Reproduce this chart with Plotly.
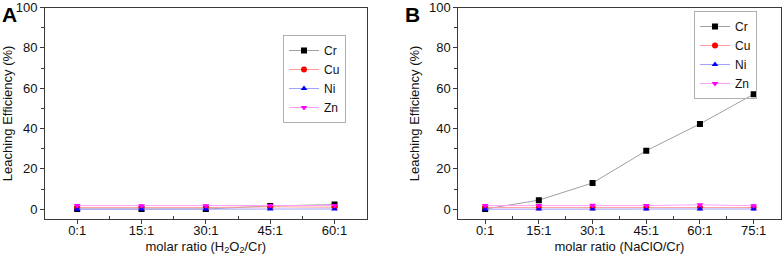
import plotly.graph_objects as go

# ---- data ----
cats_a = ["0:1", "15:1", "30:1", "45:1", "60:1"]
cr_a = [0.1, 0.1, 0.1, 1.6, 2.3]
cu_a = [0.8, 0.8, 0.8, 1.2, 1.0]
ni_a = [0.0, 0.0, 0.0, 0.1, 0.1]
zn_a = [1.8, 1.7, 1.7, 1.8, 1.9]

cats_b = ["0:1", "15:1", "30:1", "45:1", "60:1", "75:1"]
cr_b = [0.1, 4.5, 13.0, 29.0, 42.3, 57.0]
cu_b = [0.8, 0.8, 0.8, 0.8, 0.9, 0.8]
ni_b = [0.0, 0.1, 0.1, 0.1, 0.1, 0.1]
zn_b = [1.8, 1.8, 2.0, 1.8, 2.2, 1.7]

yticks = [0, 20, 40, 60, 80, 100]

FONT = "Liberation Sans, Arial, sans-serif"

series_style = [
    ("Cr", "#000000", "#a0a0a0", "square"),
    ("Cu", "#ff0000", "#ff9c9c", "circle"),
    ("Ni", "#0000ff", "#a0a0ff", "triangle-up"),
    ("Zn", "#ff00ff", "#ffa0ff", "triangle-down"),
]

fig = go.Figure()

def add_panel(cats, data, xa, ya, legend):
    xs = list(range(len(cats)))
    for (name, mc, lc, sym), ys in zip(series_style, data):
        fig.add_trace(go.Scatter(
            x=xs, y=ys, name=name, mode="lines+markers",
            line=dict(color=lc, width=1),
            marker=dict(color=mc, symbol=sym, size=6),
            xaxis=xa, yaxis=ya, legend=legend,
        ))

add_panel(cats_a, [cr_a, cu_a, ni_a, zn_a], "x", "y", "legend")
add_panel(cats_b, [cr_b, cu_b, ni_b, zn_b], "x2", "y2", "legend2")

W, H = 782, 257
ydom = [1 - 219.3 / H, 1 - 7.5 / H]

axcommon = dict(
    showgrid=False, zeroline=False, showline=True, mirror=True,
    linecolor="#3a3a3a", linewidth=1, ticks="outside", ticklen=4,
    tickcolor="#3a3a3a", automargin=False,
    tickfont=dict(family=FONT, size=13, color="#111"),
)

def xaxis(cats, dom, title, anchor):
    return dict(
        axcommon, domain=dom, anchor=anchor, range=[-0.5, len(cats) - 0.5],
        tickmode="array", tickvals=list(range(len(cats))), ticktext=cats,
        ticklabelstandoff=-5,
        minor=dict(ticks="inside", ticklen=3, tickcolor="#3a3a3a",
                   tickmode="array",
                   tickvals=[i + 0.5 for i in range(len(cats) - 1)]),
        title=dict(text=title, font=dict(family=FONT, size=13, color="#111"),
                   standoff=4),
    )

def yaxis(dom, anchor):
    return dict(
        axcommon, domain=dom, anchor=anchor, range=[-5, 100],
        tickmode="array", tickvals=yticks,
        minor=dict(ticks="outside", ticklen=3, tickcolor="#3a3a3a",
                   tickmode="array", tickvals=[10, 30, 50, 70, 90]),
        title=dict(text="Leaching Efficiency (%)",
                   font=dict(family=FONT, size=13, color="#111"), standoff=6),
    )

legcommon = dict(
    bgcolor="rgba(255,255,255,0)", bordercolor="#b0b0b0", borderwidth=1,
    font=dict(family=FONT, size=12, color="#111"),
    xanchor="left", yanchor="top", itemwidth=30, tracegroupgap=0,
)

fig.update_layout(
    width=W, height=H,
    margin=dict(l=0, r=0, t=0, b=0),
    paper_bgcolor="white", plot_bgcolor="white",
    font=dict(family=FONT, size=13, color="#111"),
    xaxis=xaxis(cats_a, [45 / W, 366.7 / W], "molar ratio (H<sub>2</sub>O<sub>2</sub>/Cr)", "y"),
    yaxis=yaxis(ydom, "x"),
    xaxis2=xaxis(cats_b, [458.3 / W, 780.5 / W], "molar ratio (NaClO/Cr)", "y2"),
    yaxis2=yaxis(ydom, "x2"),
    legend=dict(legcommon, x=283 / W, y=1 - 35 / H),
    legend2=dict(legcommon, x=694 / W, y=1 - 11 / H),
    showlegend=True,
)

fig.add_annotation(text="<b>A</b>", x=0, y=1 - 1 / H, xref="paper", yref="paper",
                   xanchor="left", yanchor="top", showarrow=False,
                   font=dict(family=FONT, size=21, color="#000"))
fig.add_annotation(text="<b>B</b>", x=403 / W, y=1 - 1 / H, xref="paper", yref="paper",
                   xanchor="left", yanchor="top", showarrow=False,
                   font=dict(family=FONT, size=21, color="#000"))

fig.write_html("out.html", config={"displayModeBar": False},
               post_script="document.body.style.margin='0';document.body.style.padding='0';")
